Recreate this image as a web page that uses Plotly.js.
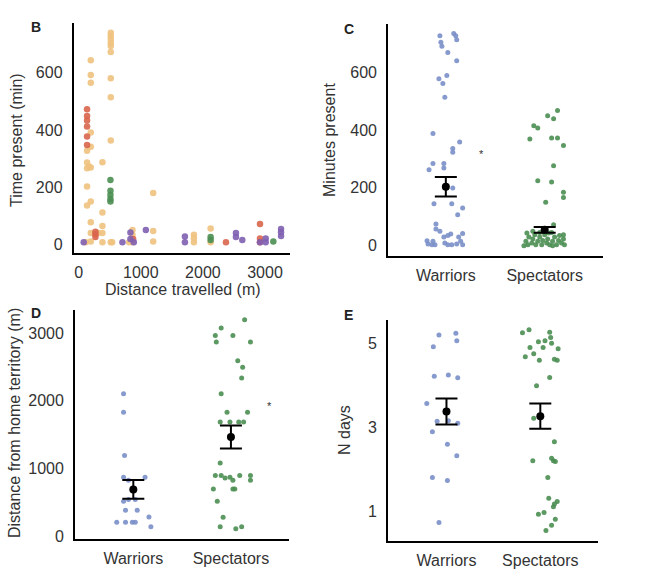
<!DOCTYPE html>
<html>
<head>
<meta charset="utf-8">
<script src="https://cdn.plot.ly/plotly-3.0.1.min.js"></script>
<style>
  body { margin: 0; background: #fff; }
  #chart { width: 647px; height: 580px; }
</style>
</head>
<body>
<div id="chart"></div>
<script>
// ---- panel B: distance travelled vs time present, one colour per group ----
var bOrangeX = [194,194,194,194,134,194,134,166,134,194,134,194,134,194,194,194,113,382,382,382,382,382,312,
                516,516,516,516,516,516,516,516,516,516,538,866,866,866,812,1199,1199,1199,1855,1855,1855,2124,2124];
var bOrangeY = [643,592,565,391,328,342,287,273,267,269,203,151,137,79,41,12,9,288,113,66,41,9,41,
                739,727,716,704,693,672,580,514,363,9,9,52,35,9,9,181,48,12,35,23,9,57,9];
var bRedX = [134,134,134,134,134,134,269,269,269,876,2371,2919,2919,2919];
var bRedY = [472,449,433,412,377,348,46,37,27,20,9,73,22,9];
var bPurpleX = [80,704,833,833,887,1081,1710,1710,2532,2532,2634,2919,3011,3011,3258,3258,3258];
var bPurpleY = [9,9,43,20,9,52,29,9,41,27,17,9,22,9,55,44,31];
var bGreenX = [511,511,511,511,511,2124,2124,3134];
var bGreenY = [226,188,174,160,151,27,17,12];

// ---- panel C: minutes present ----
var cWarX = [0.94,0.95,0.96,1.08,1.10,1.11,1.02,1.11,0.93,1.01,0.97,0.99,0.87,1.14,1.07,1.07,0.87,0.98,0.98,0.83,
             1.07,0.88,1.06,1.17,1.12,0.90,0.90,0.94,0.98,1.02,1.05,1.17,1.13,0.81,0.82,0.86,0.89,0.99,1.02,1.06,
             1.11,1.17,1.15,0.87];
var cWarY = [727,704,690,734,727,713,669,640,578,589,561,514,388,359,336,323,284,284,269,263,
             200,145,145,130,107,75,58,50,30,35,40,42,30,17,6,3,3,9,3,3,
             6,3,15,15];
var cSpecX = [2.13,2.03,2.09,1.89,1.93,1.85,2.07,2.13,2.19,2.09,1.93,2.07,2.19,2.19,2.01,2.09,
              1.82,1.84,1.81,1.83,1.87,1.88,1.90,1.91,1.93,1.95,1.97,1.98,2.00,2.02,2.03,2.05,2.07,2.08,
              2.10,2.12,2.14,2.15,2.17,2.19,2.20,1.88,1.95,2.08,1.79,2.19,2.04];
var cSpecY = [468,450,439,415,407,369,373,373,347,277,225,220,185,167,150,72,
              44,30,15,3,9,23,38,3,15,30,3,18,38,9,23,3,46,15,
              30,3,18,35,9,23,3,50,46,0,0,38,44];
var cMean = [204, 55];
var cErr = [34, 10];

// ---- panel D: distance from home territory ----
var dWarX = [0.90,0.90,0.91,0.90,0.95,1.12,0.90,0.95,1.02,0.92,1.04,0.83,0.92,0.99,1.02,1.16,1.18];
var dWarY = [2105,1830,1190,871,826,871,516,541,541,384,384,207,207,207,207,285,138];
var dSpecX = [2.14,1.90,2.02,1.84,1.85,2.20,2.07,2.12,2.11,1.90,1.96,2.17,1.89,1.99,2.08,2.13,1.89,
              1.84,1.90,1.94,1.99,2.02,2.09,2.20,2.20,1.82,2.02,2.04,1.86,1.92,1.89,2.05,2.11];
var dSpecY = [3197,3074,2966,2966,2868,2868,2592,2494,2336,2105,1830,1830,1687,1687,1687,1687,1082,
              895,895,861,871,826,895,895,826,698,698,698,516,280,138,108,138];
var dMean = [690, 1466];
var dErr = [138, 170];

// ---- panel E: number of days ----
var eWarX = [0.92,1.10,1.11,0.86,0.87,1.02,1.12,0.79,0.90,1.12,1.02,0.85,1.01,1.11,0.85,1.01,0.92];
var eWarY = [5.20,5.24,5.06,4.92,4.22,4.25,4.18,3.57,3.15,3.10,3.16,2.90,2.60,2.33,1.81,1.74,0.74];
var eSpecX = [1.81,1.88,2.10,2.11,1.98,2.05,2.12,1.89,2.03,2.19,1.93,1.84,1.99,2.15,2.18,2.10,1.96,
              1.93,2.15,1.92,2.12,2.14,2.16,2.08,2.09,2.18,2.15,2.14,2.04,1.98,2.16,2.12,2.06];
var eSpecY = [5.25,5.32,5.26,5.14,5.04,5.06,5.00,4.90,4.90,4.87,4.75,4.68,4.60,4.62,4.60,4.19,3.99,
              3.22,2.66,2.21,2.27,2.21,2.19,1.81,1.32,1.24,1.18,1.12,0.98,0.94,0.82,0.68,0.55];
var eMean = [3.38, 3.27];
var eErr = [0.31, 0.30];

var groups = ['Warriors', 'Spectators'];

var blue = '#7a8fc8', green = '#4b8e52';
var orange = '#efc27e', red = '#d9654c', purple = '#7f5fb1';

function dots(x, y, color, xa, ya, size) {
  return { x: x, y: y, xaxis: xa, yaxis: ya, type: 'scatter', mode: 'markers',
    marker: { color: color, size: size, opacity: 0.9 }, hoverinfo: 'x+y' };
}
function meanBar(mean, err, xa, ya) {
  return { x: [1, 2], y: mean, xaxis: xa, yaxis: ya, type: 'scatter', mode: 'markers',
    marker: { color: '#000', size: 8 },
    error_y: { type: 'data', array: err, visible: true, color: '#000', thickness: 2, width: 11 } };
}

var data = [
  dots(bOrangeX, bOrangeY, orange, 'x', 'y', 6.5),
  dots(bRedX, bRedY, red, 'x', 'y', 6.5),
  dots(bPurpleX, bPurpleY, purple, 'x', 'y', 6.5),
  dots(bGreenX, bGreenY, green, 'x', 'y', 6.5),
  dots(cWarX, cWarY, blue, 'x2', 'y2', 5),
  dots(cSpecX, cSpecY, green, 'x2', 'y2', 5),
  meanBar(cMean, cErr, 'x2', 'y2'),
  dots(dWarX, dWarY, blue, 'x3', 'y3', 5),
  dots(dSpecX, dSpecY, green, 'x3', 'y3', 5),
  meanBar(dMean, dErr, 'x3', 'y3'),
  dots(eWarX, eWarY, blue, 'x4', 'y4', 5),
  dots(eSpecX, eSpecY, green, 'x4', 'y4', 5),
  meanBar(eMean, eErr, 'x4', 'y4')
];

var font = { family: 'Liberation Sans, Arial, sans-serif', size: 16, color: '#333' };

function ax(domain, range, anchor, extra) {
  var a = { domain: domain, range: range, anchor: anchor, showgrid: false, zeroline: false,
    showline: true, linecolor: '#000', linewidth: 2, ticks: '', fixedrange: true,
    tickfont: font };
  for (var k in extra) a[k] = extra[k];
  return a;
}
var catTicks = { tickvals: [1, 2], ticktext: groups, ticklabelstandoff: 4 };

// labels placed in pixels of the 647x580 page
function label(text, px, py, angle, f) {
  return { text: text, x: px / 647, y: 1 - py / 580, xref: 'paper', yref: 'paper',
    xanchor: 'center', yanchor: 'middle', textangle: angle || 0, showarrow: false, font: f || font };
}
var letterFont = { family: 'Liberation Sans, Arial, sans-serif', size: 14, color: '#222' };

var layout = {
  width: 647, height: 580,
  margin: { l: 0, r: 0, t: 0, b: 0 },
  paper_bgcolor: '#fff', plot_bgcolor: '#fff',
  showlegend: false,
  font: font,
  xaxis:  ax([0.114, 0.448], [-80, 3400], 'y', { tickvals: [0, 1000, 2000, 3000], ticklabelstandoff: 4 }),
  yaxis:  ax([0.564, 0.960], [-28, 772], 'x', { tickvals: [0, 200, 400, 600], ticklabelstandoff: 6 }),
  xaxis2: ax([0.600, 0.932], [0.417, 2.59], 'y2', catTicks),
  yaxis2: ax([0.559, 0.959], [-35, 768], 'x2', { tickvals: [0, 200, 400, 600], ticklabelstandoff: 6 }),
  xaxis3: ax([0.116, 0.447], [0.403, 2.597], 'y3', catTicks),
  yaxis3: ax([0.071, 0.466], [-39, 3345], 'x3', { tickvals: [0, 1000, 2000, 3000], ticklabelstandoff: 6 }),
  xaxis4: ax([0.600, 0.924], [0.379, 2.613], 'y4', catTicks),
  yaxis4: ax([0.067, 0.448], [0.30, 5.55], 'x4', { tickvals: [1, 3, 5], ticklabelstandoff: 6 }),
  annotations: [
    label('<b>B</b>', 36, 27, 0, letterFont),
    label('<b>C</b>', 349, 29, 0, letterFont),
    label('<b>D</b>', 36, 313, 0, letterFont),
    label('<b>E</b>', 348, 315, 0, letterFont),
    // axis titles
    label('Time present (min)', 16, 140, -90),
    label('Distance travelled (m)', 183, 289, 0),
    label('Minutes present', 329, 140, -90),
    label('Distance from home territory (m)', 14, 423, -90),
    label('N days', 344, 430, -90),
    // significance marks
    { text: '*', x: 1.36, y: 318, xref: 'x2', yref: 'y2', showarrow: false, font: { size: 11, color: '#333' } },
    { text: '*', x: 2.40, y: 1918, xref: 'x3', yref: 'y3', showarrow: false, font: { size: 11, color: '#333' } }
  ]
};

Plotly.newPlot('chart', data, layout, { displayModeBar: false, staticPlot: true });
</script>
</body>
</html>
